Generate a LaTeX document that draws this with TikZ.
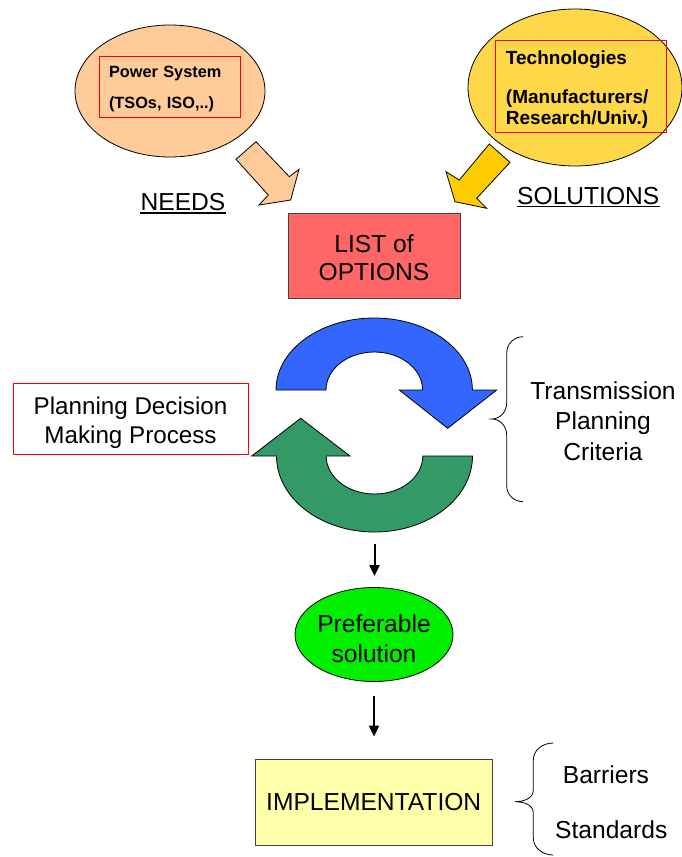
\documentclass[tikz,border=0pt]{standalone}
\usepackage{fontspec}
\setmainfont{Liberation Sans}
\usetikzlibrary{shapes.geometric,arrows.meta}

\definecolor{peach}{HTML}{FFCC99}
\definecolor{goldlight}{HTML}{FFD84A}
\definecolor{golddeep}{HTML}{FFCC00}
\definecolor{salmon}{HTML}{FF6666}
\definecolor{cycblue}{HTML}{3366FF}
\definecolor{cycgreen}{HTML}{339966}
\definecolor{brightgreen}{HTML}{00F000}
\definecolor{paleyellow}{HTML}{FFFFAA}

\tikzset{
  big/.style={font=\fontsize{24.6}{29.5}\selectfont, align=center},
  bubble/.style={ellipse, draw=black, line width=0.8pt, inner sep=0pt},
  redframe/.style={draw=red, line width=0.9pt},
  plainbox/.style={draw=black!75, line width=0.8pt},
  blockarrow/.style={draw=black, line width=0.8pt, line join=miter},
  flow/.style={line width=2pt, -{Triangle[length=11pt,width=10pt]}},
  bracket/.style={line width=0.8pt},
}

\begin{document}
\begin{tikzpicture}[x=1pt, y=1pt]
\useasboundingbox (0,0) rectangle (681,-857);

% --- sources: power system and technologies ---
\node[bubble, fill=peach, minimum width=190pt, minimum height=132pt] (psys) at (170,-91) {};
\node[redframe, minimum width=141pt, minimum height=61pt] (psysbox) at (169.5,-86.5) {};
\node[text width=121pt, inner sep=0pt, align=left, font=\bfseries\fontsize{16.3}{31}\selectfont]
      (psystext) at ([yshift=-2pt]psysbox.center) {Power System\\(TSOs, ISO,..)};

\node[bubble, fill=goldlight, minimum width=214pt, minimum height=157pt] (tech) at (575,-87.5) {};
\node[redframe, minimum width=171.7pt, minimum height=91.6pt] (techbox) at (580.8,-86.5) {};
\node[text width=149.7pt, inner sep=0pt, align=left, font=\bfseries\fontsize{19}{21}\selectfont]
      (techtext) at ([yshift=-3pt]techbox.center) {Technologies\\[18pt](Manufacturers/\\Research/Univ.)};

% --- block arrows feeding the option list ---
\filldraw[blockarrow, fill=peach]
  (236,-159.3) -- (256,-141.7) -- (289.3,-176.7) -- (299,-169.3)
  -- (290.7,-200) -- (259,-205) -- (268.3,-195) -- cycle;
\filldraw[blockarrow, fill=golddeep]
  (489.3,-144) -- (510,-162.3) -- (476.7,-198.3) -- (486.7,-208.3)
  -- (455,-201.7) -- (446,-171.7) -- (459.3,-180) -- cycle;

\node[big, inner sep=0pt, anchor=base] (needs) at (183,-210.5) {NEEDS};
\draw[line width=1.6pt] ([yshift=-2.5pt]needs.base west) -- ([yshift=-2.5pt]needs.base east);
\node[big, inner sep=0pt, anchor=base] (sols) at (588.3,-204) {SOLUTIONS};
\draw[line width=1.6pt] ([yshift=-2.5pt]sols.base west) -- ([yshift=-2.5pt]sols.base east);

% --- list of options ---
\node[plainbox, fill=salmon, minimum width=172pt, minimum height=85pt] (options) at (374,-255.5) {};
\node[big, inner sep=0pt, font=\fontsize{24.6}{28}\selectfont] (optionstext)
      at ([yshift=-2pt]options.center) {LIST of\\OPTIONS};

% --- planning cycle ---
\filldraw[blockarrow, fill=cycblue]
  (276,-390) arc[start angle=180, end angle=0, x radius=98.2, y radius=72]
  -- (496.7,-390) -- (447.7,-428.3) -- (399.3,-390) -- (422.6,-390)
  arc[start angle=0, end angle=180, x radius=48.3, y radius=38] -- cycle;
\filldraw[blockarrow, fill=cycgreen]
  (472.5,-456) arc[start angle=0, end angle=-180, x radius=98, y radius=76]
  -- (251.7,-456) -- (300.7,-418.3) -- (350,-456) -- (326.2,-456)
  arc[start angle=180, end angle=360, x radius=48.3, y radius=38] -- cycle;
\coordinate (cyclebot) at (374.5,-532);

\node[redframe, minimum width=235pt, minimum height=71pt] (pdm) at (130.5,-418.5) {};
\node[big, inner sep=0pt, font=\fontsize{24.2}{29}\selectfont] (pdmtext)
      at ([yshift=-4pt]pdm.center) {Planning Decision\\Making Process};

\draw[bracket] (523,-336.7) to[out=180,in=90] (506.7,-353) -- (506.7,-403)
  to[out=-90,in=0] (491.7,-419) to[out=0,in=90] (506.7,-435) -- (506.7,-486)
  to[out=-90,in=180] (523,-501.7);
\node[big, font=\fontsize{24.6}{30.5}\selectfont] (tpc) at (603,-421) {Transmission\\Planning\\Criteria};

% --- outcome ---
\node[bubble, fill=brightgreen, minimum width=158pt, minimum height=94pt] (pref) at (374,-634.5) {};
\node[big, inner sep=0pt, font=\fontsize{24.6}{30}\selectfont] (preftext)
      at ([yshift=-4pt]pref.center) {Preferable\\solution};
\node[plainbox, fill=paleyellow, minimum width=237pt, minimum height=86pt, big] (impl) at (373.7,-802) {IMPLEMENTATION};

\draw[flow, shorten <=12pt, shorten >=11pt] (cyclebot) -- (cyclebot |- pref.north);
\draw[flow, shorten <=14pt, shorten >=22pt] (pref.south) -- (pref.south |- impl.north);

\draw[bracket] (553.3,-743) to[out=180,in=90] (533.3,-760) -- (533.3,-790)
  to[out=-90,in=0] (515,-801.7) to[out=0,in=90] (533.3,-813) -- (533.3,-838)
  to[out=-90,in=180] (553.3,-855);
\node[big, inner sep=0pt, anchor=west] (barr) at (562.7,-775) {Barriers};
\node[big, inner sep=0pt, anchor=west] (stds) at (555,-830) {Standards};
\end{tikzpicture}
\end{document}
